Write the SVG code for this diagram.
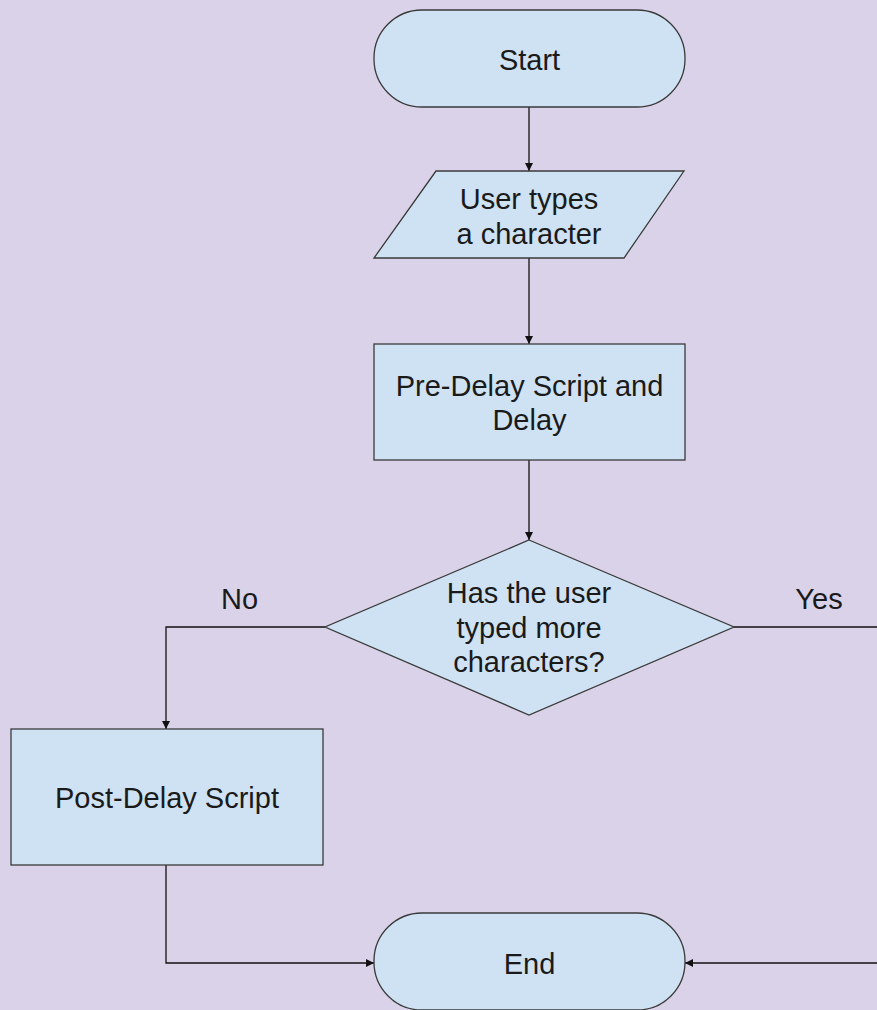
<svg xmlns="http://www.w3.org/2000/svg" width="877" height="1010" viewBox="0 0 877 1010">
<style>
.shape{fill:#cfe2f3;stroke:#3a3a3a;stroke-width:1.3}
.conn{fill:none;stroke:#111;stroke-width:1.3}
text{font-family:"Liberation Sans",Arial,sans-serif;font-size:29px;fill:#1a1a1a;text-anchor:middle}
</style>
<defs>
<marker id="arr" viewBox="0 0 10 10" refX="10" refY="5" markerWidth="8" markerHeight="8" markerUnits="userSpaceOnUse" orient="auto">
<path d="M0,0 L10,5 L0,10 z" fill="#111"/>
</marker>
</defs>
<rect width="877" height="1010" fill="#d9d2e9"/>
<g id="connectors">
<line class="conn" x1="529" y1="107" x2="529" y2="171" marker-end="url(#arr)"/>
<line class="conn" x1="529" y1="258" x2="529" y2="344" marker-end="url(#arr)"/>
<line class="conn" x1="529" y1="460" x2="529" y2="540" marker-end="url(#arr)"/>
<polyline class="conn" points="325,627 166,627 166,729" marker-end="url(#arr)"/>
<line class="conn" x1="734" y1="627" x2="877" y2="627"/>
<line class="conn" x1="877" y1="963" x2="685" y2="963" marker-end="url(#arr)"/>
<polyline class="conn" points="166,865 166,963 374,963" marker-end="url(#arr)"/>
<text x="239.5" y="609">No</text>
<text x="819" y="609">Yes</text>
</g>
<g id="start">
<rect class="shape" x="374" y="10" width="311" height="97" rx="48" ry="48"/>
<text x="529.5" y="70">Start</text>
</g>
<g id="input">
<polygon class="shape" points="436,171 684,171 624,258 374,258"/>
<text x="529" y="209">User types</text>
<text x="529" y="244">a character</text>
</g>
<g id="predelay">
<rect class="shape" x="374" y="344" width="311" height="116"/>
<text x="529.5" y="396">Pre-Delay Script and</text>
<text x="529.5" y="430">Delay</text>
</g>
<g id="decision">
<polygon class="shape" points="529,540 734,627 529,715 325,627"/>
<text x="529" y="603">Has the user</text>
<text x="529" y="638">typed more</text>
<text x="529" y="672">characters?</text>
</g>
<g id="postdelay">
<rect class="shape" x="11" y="729" width="312" height="136"/>
<text x="167" y="808">Post-Delay Script</text>
</g>
<g id="end">
<rect class="shape" x="374" y="913" width="311" height="97" rx="48" ry="48"/>
<text x="529.5" y="974">End</text>
</g>
</svg>
